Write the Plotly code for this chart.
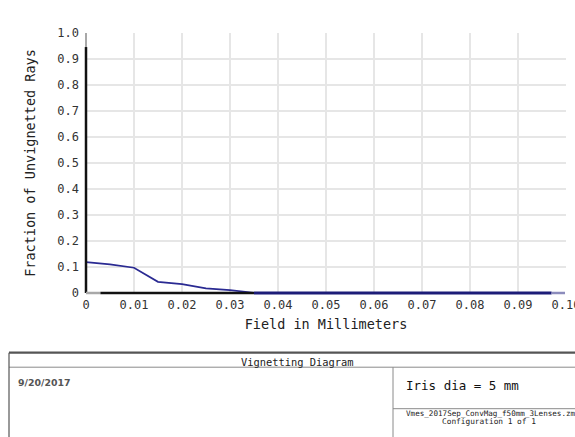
import plotly.graph_objects as go

# Vignetting curve: fraction of unvignetted rays vs. field position
field_mm = [0.0, 0.005, 0.010, 0.015, 0.020, 0.025, 0.030, 0.035, 0.040,
            0.050, 0.060, 0.070, 0.080, 0.090, 0.097]
unvignetted = [0.119, 0.110, 0.097, 0.043, 0.034, 0.018, 0.011, 0.001, 0.0,
               0.0, 0.0, 0.0, 0.0, 0.0, 0.0]

x_ticks = [0.0, 0.01, 0.02, 0.03, 0.04, 0.05, 0.06, 0.07, 0.08, 0.09, 0.10]
x_tick_text = ["0", "0.01", "0.02", "0.03", "0.04", "0.05", "0.06", "0.07", "0.08", "0.09", "0.10"]
y_ticks = [0.0, 0.1, 0.2, 0.3, 0.4, 0.5, 0.6, 0.7, 0.8, 0.9, 1.0]
y_tick_text = ["0", "0.1", "0.2", "0.3", "0.4", "0.5", "0.6", "0.7", "0.8", "0.9", "1.0"]

title_text = "Vignetting Diagram"
date_text = "9/20/2017"
note_text = "Iris dia = 5 mm"
file_text = "Vmes_2017Sep_ConvMag_f50mm_3Lenses.zmx"
config_text = "Configuration 1 of 1"

W, H = 575, 437
L, R, T, B = 86, 9, 33, 144
PW, PH = W - L - R, H - T - B


def px(x):
    return (x - L) / PW


def py(y):
    return (H - B - y) / PH


MONO = "DejaVu Sans Mono"

fig = go.Figure()

# axis lines (paper-referenced in x so they are not clipped at the plot edge)
fig.add_shape(type="line", xref="paper", yref="y", x0=0, x1=0, y0=0, y1=0.946,
              line=dict(color="#111111", width=2.5), layer="above")
fig.add_shape(type="line", xref="paper", yref="y", x0=0, x1=0, y0=0.946, y1=1.0,
              line=dict(color="#a8a8a8", width=2), layer="above")
fig.add_shape(type="line", xref="x", yref="paper", x0=0, x1=0.003, y0=0, y1=0,
              line=dict(color="#a8a8a8", width=2.5), layer="above")
fig.add_shape(type="line", xref="x", yref="paper", x0=0.003, x1=0.035, y0=0, y1=0,
              line=dict(color="#111111", width=2.5), layer="above")
fig.add_shape(type="line", xref="x", yref="paper", x0=0.035, x1=0.097, y0=0, y1=0,
              line=dict(color="#1c1c78", width=3), layer="above")
fig.add_shape(type="line", xref="x", yref="paper", x0=0.097, x1=0.0998, y0=0, y1=0,
              line=dict(color="#8c8cbc", width=2.5), layer="above")

fig.add_trace(go.Scatter(
    x=field_mm, y=unvignetted, mode="lines",
    line=dict(color="#2a2a92", width=1.7),
    showlegend=False, hoverinfo="skip", cliponaxis=False,
))

fig.update_xaxes(
    range=[0, 0.10001], tickvals=x_ticks, ticktext=x_tick_text,
    automargin=False,
    showgrid=True, gridcolor="#e6e6e6", gridwidth=1.5,
    zeroline=False, showline=False, ticks="",
    ticklabelstandoff=3, ticklabeloverflow="allow",
    tickfont=dict(family=MONO, size=12, color="#333333"),
    title=dict(text="Field in Millimeters", standoff=8,
               font=dict(family=MONO, size=13.5, color="#222222")),
)
fig.update_yaxes(
    range=[0, 1.0], tickvals=y_ticks, ticktext=y_tick_text,
    automargin=False,
    showgrid=True, gridcolor="#e6e6e6", gridwidth=1.5,
    zeroline=False, showline=False, ticks="",
    ticklabelstandoff=6,
    tickfont=dict(family=MONO, size=12, color="#333333"),
    title=dict(text="Fraction of Unvignetted Rays", standoff=18,
               font=dict(family=MONO, size=13.5, color="#222222")),
)

# title block beneath the plot
tl, tr = px(9), px(590)
top, row, bot = py(352.7), py(367.2), py(445)
mid_x, sub_y = px(393), py(408.7)
block = [
    dict(x0=tl, x1=tr, y0=top, y1=top, line=dict(color="#555555", width=2.2)),
    dict(x0=tl, x1=tr, y0=row, y1=row, line=dict(color="#8a8a8a", width=1)),
    dict(x0=tl, x1=tl, y0=top, y1=bot, line=dict(color="#555555", width=1.2)),
    dict(x0=mid_x, x1=mid_x, y0=row, y1=bot, line=dict(color="#8a8a8a", width=1)),
    dict(x0=mid_x, x1=tr, y0=sub_y, y1=sub_y, line=dict(color="#8a8a8a", width=1)),
]
for s in block:
    fig.add_shape(type="line", xref="paper", yref="paper", **s)

fig.add_annotation(x=px(297.5), y=py(361.5), xref="paper", yref="paper",
                   text=title_text, showarrow=False, xanchor="center", yanchor="middle",
                   font=dict(family=MONO, size=10.4, color="#222222"))
fig.add_annotation(x=px(16), y=py(382), xref="paper", yref="paper",
                   text="<b>" + date_text + "</b>", showarrow=False,
                   xanchor="left", yanchor="middle",
                   font=dict(family="DejaVu Sans", size=9.4, color="#555555"))
fig.add_annotation(x=px(404), y=py(385), xref="paper", yref="paper",
                   text=note_text, showarrow=False, xanchor="left", yanchor="middle",
                   font=dict(family=MONO, size=12.5, color="#111111"))
fig.add_annotation(x=px(405), y=py(413.5), xref="paper", yref="paper",
                   text=file_text, showarrow=False, xanchor="left", yanchor="middle",
                   font=dict(family=MONO, size=7.6, color="#222222"),
                   borderpad=0)
fig.add_annotation(x=px(489), y=py(421.5), xref="paper", yref="paper",
                   text=config_text, showarrow=False, xanchor="center", yanchor="middle",
                   font=dict(family=MONO, size=7.8, color="#222222"),
                   borderpad=0)

fig.update_layout(
    width=W, height=H,
    margin=dict(l=L, r=R, t=T, b=B),
    paper_bgcolor="white", plot_bgcolor="white",
)

fig.write_html("out.html")
